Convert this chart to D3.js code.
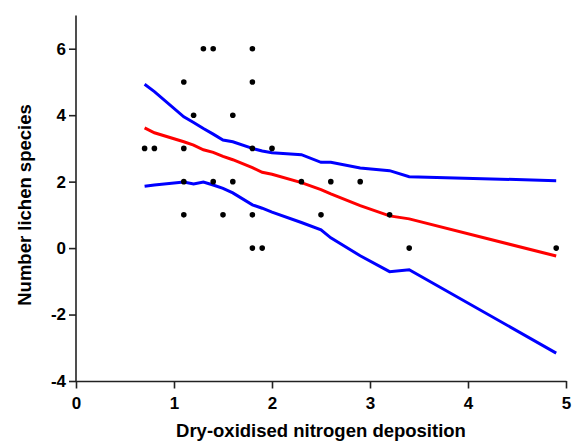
<!DOCTYPE html>
<html>
<head>
<meta charset="utf-8">
<script src="https://cdn.jsdelivr.net/npm/d3@7"></script>
<style>
  html, body { margin: 0; padding: 0; background: #fff; }
  svg { display: block; }
  text { font-family: "Liberation Sans", Arial, sans-serif; font-weight: bold; fill: #000; }
</style>
</head>
<body>
<svg id="chart" width="576" height="442"></svg>
<script>
// Observed data points (x = deposition, y = species count)
const pointX = [0.7, 0.8, 1.1, 1.1, 1.1, 1.1, 1.2, 1.3, 1.4, 1.4, 1.5, 1.6, 1.6,
                1.8, 1.8, 1.8, 1.8, 1.8, 1.9, 2.0, 2.3, 2.5, 2.6, 2.9, 3.2, 3.4, 4.9];
const pointY = [3, 3, 5, 3, 2, 1, 4, 6, 6, 2, 1, 4, 2,
                6, 5, 3, 1, 0, 0, 3, 2, 1, 2, 2, 1, 0, 0];

// Fitted curve and confidence band, evaluated at the distinct x values
const fitX   = [0.7, 0.8, 1.1, 1.2, 1.3, 1.4, 1.5, 1.6, 1.8, 1.9, 2.0, 2.3, 2.5, 2.6, 2.9, 3.2, 3.4, 4.9];
const fitY   = [3.62, 3.47, 3.2, 3.1, 2.96, 2.88, 2.76, 2.66, 2.42, 2.28, 2.22, 1.97, 1.76, 1.63, 1.28, 0.97, 0.88, -0.24];
const upperY = [4.93, 4.71, 3.95, 3.78, 3.6, 3.43, 3.25, 3.2, 3.0, 2.92, 2.87, 2.81, 2.58, 2.58, 2.41, 2.33, 2.15, 2.03];
const lowerY = [1.86, 1.9, 1.99, 1.93, 1.99, 1.9, 1.8, 1.66, 1.3, 1.2, 1.08, 0.77, 0.55, 0.31, -0.23, -0.71, -0.65, -3.16];

const xTicks = [0, 1, 2, 3, 4, 5];
const yTicks = [-4, -2, 0, 2, 4, 6];
const xTitle = "Dry-oxidised nitrogen deposition";
const yTitle = "Number lichen species";

const svg = d3.select("#chart");
const x = d3.scaleLinear().domain([0, 5]).range([76, 566]);
const y = d3.scaleLinear().domain([-4, 7]).range([381, 15.5]);

const fmt = d => String(d); // plain hyphen-minus like the reference

// Axes
const xAxis = d3.axisBottom(x).tickValues(xTicks).tickFormat(fmt).tickSize(7.5).tickSizeOuter(0).tickPadding(8);
const yAxis = d3.axisLeft(y).tickValues(yTicks).tickFormat(fmt).tickSize(7).tickSizeOuter(0).tickPadding(3);

const gx = svg.append("g").attr("transform", `translate(0,${y(-4)})`).call(xAxis);
const gy = svg.append("g").attr("transform", `translate(${x(0)},0)`).call(yAxis);
[gx, gy].forEach(g => {
  g.select(".domain").attr("stroke", "#222").attr("stroke-width", 1.6);
  g.selectAll(".tick line").attr("stroke", "#222").attr("stroke-width", 1.6);
  g.selectAll(".tick text").style("font-family", '"Liberation Sans", Arial, sans-serif')
    .style("font-weight", "bold").style("font-size", "17px").attr("fill", "#000");
});
// Extend y axis line to top of domain
gy.select(".domain").attr("d", `M0,${y(-4)}V${y(7)}`);

// Lines
const lineGen = (vals) => d3.line().x((d, i) => x(fitX[i])).y(d => y(d))(vals);
svg.append("path").attr("d", lineGen(upperY)).attr("fill", "none").attr("stroke", "#0000ff").attr("stroke-width", 3);
svg.append("path").attr("d", lineGen(lowerY)).attr("fill", "none").attr("stroke", "#0000ff").attr("stroke-width", 3);
svg.append("path").attr("d", lineGen(fitY)).attr("fill", "none").attr("stroke", "#ff0000").attr("stroke-width", 3);

// Points
svg.append("g").selectAll("circle").data(pointX).join("circle")
  .attr("cx", d => x(d)).attr("cy", (d, i) => y(pointY[i])).attr("r", 2.8).attr("fill", "#000");

// Titles
svg.append("text").attr("x", 321).attr("y", 437).attr("text-anchor", "middle")
  .style("font-size", "18.5px").text(xTitle);
svg.append("text").attr("transform", "translate(31,205) rotate(-90)").attr("text-anchor", "middle")
  .style("font-size", "18.5px").text(yTitle);
</script>
</body>
</html>
